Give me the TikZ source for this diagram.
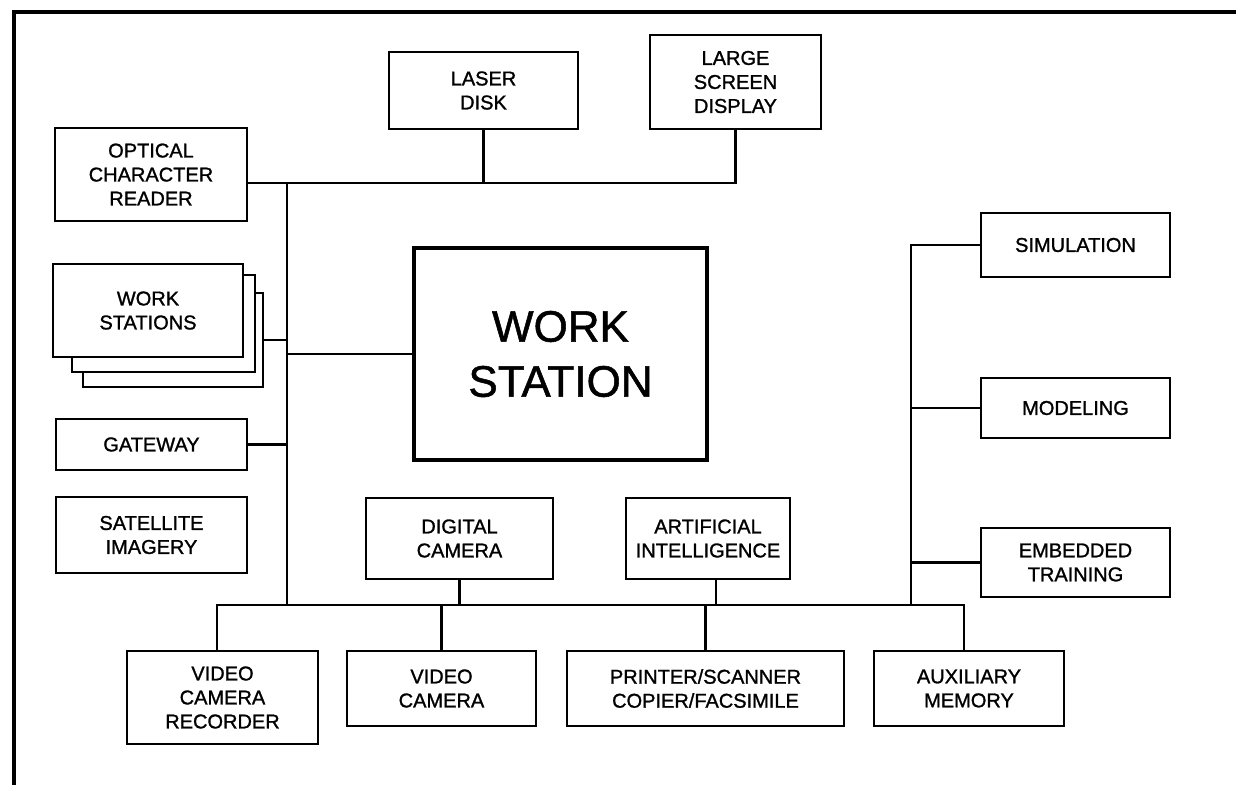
\documentclass[tikz,border=0pt]{standalone}
\usepackage{fontspec}
\setmainfont{Liberation Sans}[FakeBold=1.2]
\newfontfamily\heavy{Liberation Sans}[FakeBold=1.2]
\begin{document}
\begin{tikzpicture}[x=1pt,y=-1pt,
  box/.style={draw,line width=2.6pt,fill=white,inner sep=0pt,align=center,
    font=\heavy\fontsize{20}{24}\selectfont},
  bigbox/.style={draw,line width=4pt,fill=white,inner sep=0pt,align=center,
    font=\heavy\fontsize{44}{55}\selectfont},
  conn/.style={line width=2.6pt},
  frame/.style={line width=4pt}]
\useasboundingbox (0,0) rectangle (1236,785);
\draw[frame] (1236,12) -- (14,12) -- (14,785);

% top row
\node[box,minimum width=192pt,minimum height=93pt] (ocr) at (151,174.5) {OPTICAL\\CHARACTER\\READER};
\node[box,minimum width=189pt,minimum height=77pt] (laser) at (483.5,90.5) {LASER\\DISK};
\node[box,minimum width=171pt,minimum height=94pt] (lsd) at (735.5,82) {LARGE\\SCREEN\\DISPLAY};

% stacked work stations
\node[box,minimum width=180pt,minimum height=94pt] (ws3) at (173,340) {};
\node[box,minimum width=183pt,minimum height=97pt] (ws2) at (163.5,323.5) {};
\node[box,minimum width=190pt,minimum height=93pt] (ws1) at (148,310.5) {WORK\\STATIONS};

% main
\node[bigbox,minimum width=293pt,minimum height=212pt] (main) at (560.5,354) {WORK\\STATION};

\node[box,minimum width=191pt,minimum height=51pt] (gate) at (151.5,444.5) {GATEWAY};
\node[box,minimum width=191pt,minimum height=76pt] (sat) at (151.5,535) {SATELLITE\\IMAGERY};

\node[box,minimum width=187pt,minimum height=81pt] (dig) at (459.5,538.5) {DIGITAL\\CAMERA};
\node[box,minimum width=164pt,minimum height=81pt] (ai) at (708,538.5) {ARTIFICIAL\\INTELLIGENCE};

% bottom row
\node[box,minimum width=191pt,minimum height=93pt] (vcr) at (222.5,697.5) {VIDEO\\CAMERA\\RECORDER};
\node[box,minimum width=189pt,minimum height=75pt] (vc) at (441.5,688.5) {VIDEO\\CAMERA};
\node[box,minimum width=277pt,minimum height=75pt] (prn) at (705.5,688.5) {PRINTER/SCANNER\\COPIER/FACSIMILE};
\node[box,minimum width=190pt,minimum height=75pt] (aux) at (969,688.5) {AUXILIARY\\MEMORY};

% right column
\node[box,minimum width=189pt,minimum height=64pt] (sim) at (1075.5,245) {SIMULATION};
\node[box,minimum width=189pt,minimum height=60pt] (mod) at (1075.5,408) {MODELING};
\node[box,minimum width=189pt,minimum height=69pt] (emb) at (1075.5,562.5) {EMBEDDED\\TRAINING};

% junction coordinates
\coordinate (tj) at (287,183);
\coordinate (bj) at (287,605);
\coordinate (bL) at (217,605);
\coordinate (bR) at (964,605);
\coordinate (rb) at (911,605);
\coordinate (dAI) at (716,605);

% connectors
\draw[conn] (ocr.east |- tj) -- (tj -| lsd.south) -- (lsd.south);
\draw[conn] (laser.south) -- (laser.south |- tj);
\draw[conn] (tj) -- (bj);
\draw[conn] (ws3.east) -- (ws3.east -| tj);
\draw[conn] (main.west) -- (main.west -| tj);
\draw[conn] (gate.east) -- (gate.east -| tj);
\draw[conn] (bL |- vcr.north) -- (bL) -- (bR) -- (bR |- aux.north);
\draw[conn] (dig.south) -- (dig.south |- bj);
\draw[conn] (ai.south -| dAI) -- (dAI);
\draw[conn] (vc.north) -- (vc.north |- bj);
\draw[conn] (prn.north) -- (prn.north |- bj);
\draw[conn] (sim.west) -| (rb);
\draw[conn] (mod.west) -- (mod.west -| rb);
\draw[conn] (emb.west) -- (emb.west -| rb);
\end{tikzpicture}
\end{document}
